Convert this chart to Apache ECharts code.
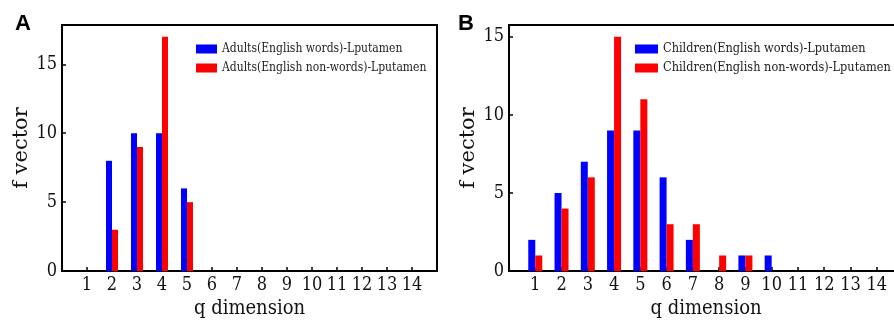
<!DOCTYPE html>
<html>
<head>
<meta charset="utf-8">
<script src="https://cdn.jsdelivr.net/npm/echarts@6/dist/echarts.min.js"></script>
<style>
  html, body { margin: 0; padding: 0; background: #fff; overflow: hidden; }
  #chart { width: 920px; height: 324px; }
</style>
</head>
<body>
<div id="chart"></div>
<script>
// q dimension categories
const qDims = [1, 2, 3, 4, 5, 6, 7, 8, 9, 10, 11, 12, 13, 14];
// panel A: adults
const adultsWords = [0, 8, 10, 10, 6, 0, 0, 0, 0, 0, 0, 0, 0, 0];
const adultsNonWords = [0, 3, 9, 17, 5, 0, 0, 0, 0, 0, 0, 0, 0, 0];
// panel B: children
const childWords = [2, 5, 7, 9, 9, 6, 2, 0, 1, 1, 0, 0, 0, 0];
const childNonWords = [1, 4, 6, 15, 11, 3, 3, 1, 1, 0, 0, 0, 0, 0];
const yTicks = [0, 5, 10, 15];

const serif = "'DejaVu Serif Condensed', 'DejaVu Serif', serif";
const pairs = (vals) => qDims.map((q, i) => [q, vals[i]]);

function xAxisFor(gridIndex) {
  return {
    gridIndex: gridIndex,
    type: 'value',
    min: 0,
    max: 15,
    interval: 1,
    name: 'q dimension',
    nameLocation: 'middle',
    nameGap: 25,
    nameTextStyle: { fontFamily: serif, fontSize: 20, color: '#111' },
    axisLine: { show: true, lineStyle: { color: '#000', width: 2 } },
    axisTick: { show: true, inside: true, length: 4, lineStyle: { color: '#000', width: 1.5 } },
    axisLabel: {
      margin: 5,
      fontFamily: serif,
      fontSize: 18,
      color: '#111',
      formatter: (v) => (qDims.indexOf(v) >= 0 ? String(v) : '')
    },
    splitLine: { show: false }
  };
}

function yAxisFor(gridIndex, max) {
  return {
    gridIndex: gridIndex,
    type: 'value',
    min: 0,
    max: max,
    interval: 5,
    name: 'f vector',
    nameLocation: 'middle',
    nameGap: 27,
    nameTextStyle: { fontFamily: "'DejaVu Serif', serif", fontSize: 21, color: '#111' },
    axisLine: { show: true, lineStyle: { color: '#000', width: 2 } },
    axisTick: { show: true, inside: true, length: 4, lineStyle: { color: '#000', width: 1.5 } },
    axisLabel: {
      margin: 5,
      fontFamily: serif,
      fontSize: 18,
      color: '#111',
      formatter: (v) => (yTicks.indexOf(v) >= 0 ? String(v) : '')
    },
    splitLine: { show: false }
  };
}

function barSeries(name, vals, idx, width, color) {
  return {
    name: name,
    type: 'bar',
    xAxisIndex: idx,
    yAxisIndex: idx,
    barWidth: width,
    barGap: '0%',
    itemStyle: { color: color },
    data: pairs(vals)
  };
}

const legendTextA = { fontFamily: serif, fontSize: 12, color: '#222', lineHeight: 14 };
const legendTextB = { fontFamily: serif, fontSize: 12.6, color: '#222', lineHeight: 14 };

const chart = echarts.init(document.getElementById('chart'), null, { renderer: 'canvas' });
chart.setOption({
  animation: false,
  title: [
    { text: 'A', left: 10, top: 8, textStyle: { fontFamily: 'Liberation Sans, Arial', fontWeight: 'bold', fontSize: 22, color: '#000' } },
    { text: 'B', left: 453, top: 8, textStyle: { fontFamily: 'Liberation Sans, Arial', fontWeight: 'bold', fontSize: 22, color: '#000' } }
  ],
  grid: [
    { left: 62, top: 25, width: 375, height: 249, show: true, borderColor: '#000', borderWidth: 2 },
    { left: 509, top: 25, width: 394, height: 249, show: true, borderColor: '#000', borderWidth: 2 }
  ],
  legend: [
    {
      orient: 'vertical', left: 191, top: 37, itemWidth: 21, itemHeight: 9, itemGap: 5,
      icon: 'rect', textStyle: legendTextA, selectedMode: false,
      data: ['Adults(English words)-Lputamen', 'Adults(English non-words)-Lputamen']
    },
    {
      orient: 'vertical', left: 630, top: 37, itemWidth: 23, itemHeight: 9, itemGap: 5,
      icon: 'rect', textStyle: legendTextB, selectedMode: false,
      data: ['Children(English words)-Lputamen', 'Children(English non-words)-Lputamen']
    }
  ],
  xAxis: [xAxisFor(0), xAxisFor(1)],
  yAxis: [yAxisFor(0, 17.85), yAxisFor(1, 15.75)],
  series: [
    barSeries('Adults(English words)-Lputamen', adultsWords, 0, 6, '#0000ff'),
    barSeries('Adults(English non-words)-Lputamen', adultsNonWords, 0, 6, '#ff0000'),
    barSeries('Children(English words)-Lputamen', childWords, 1, 7, '#0000ff'),
    barSeries('Children(English non-words)-Lputamen', childNonWords, 1, 7, '#ff0000')
  ]
});
</script>
</body>
</html>
